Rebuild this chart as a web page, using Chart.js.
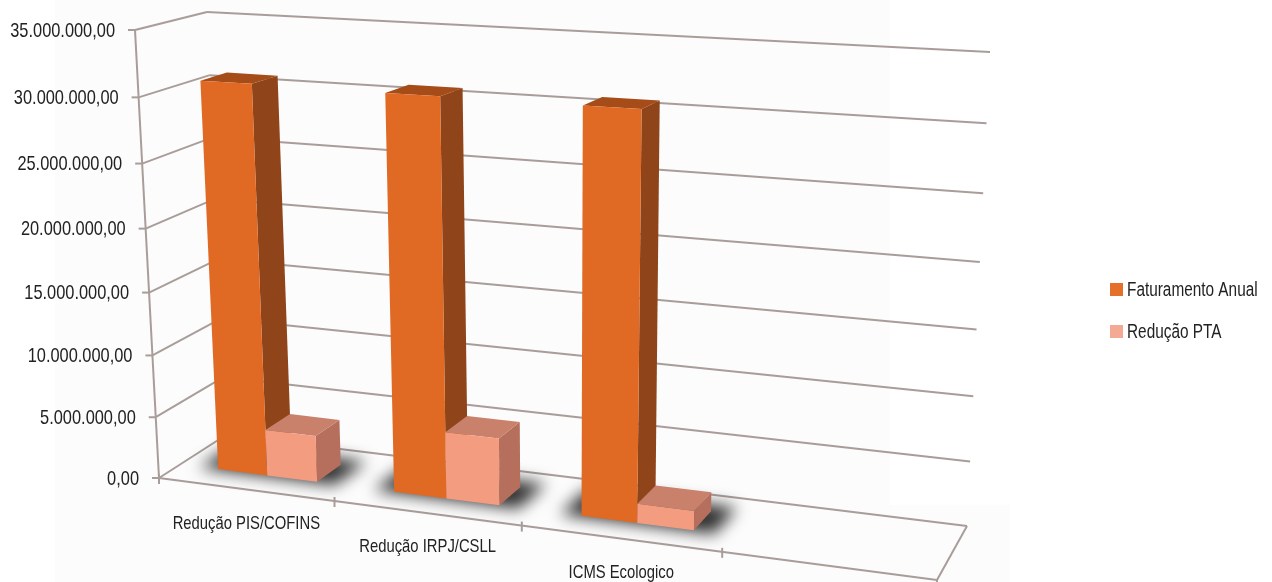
<!DOCTYPE html>
<html>
<head>
<meta charset="utf-8">
<script src="https://cdn.jsdelivr.net/npm/chart.js@4"></script>
<style>
  html, body { margin: 0; padding: 0; background: #fff; }
  #chart-container { width: 1272px; height: 582px; }
</style>
</head>
<body>
<div id="chart-container"><canvas id="chart"></canvas></div>
<script>
const categories = ['Redução PIS/COFINS', 'Redução IRPJ/CSLL', 'ICMS Ecologico', ''];
const faturamentoAnual = [30900000, 30800000, 30750000, null];
const reducaoPTA = [3750000, 5300000, 1500000, null];
const tickLabels = ['0,00', '5.000.000,00', '10.000.000,00', '15.000.000,00', '20.000.000,00', '25.000.000,00', '30.000.000,00', '35.000.000,00'];

const textFont = '"Liberation Sans", sans-serif';
const textSqueeze = 0.78;
const lineColor = '#a99d9a';

// Side and top face colours, by dataset index
const sideColors = ['#8f441a', '#b56f5c'];
const topColors = ['#a54c18', '#c9816b'];

// Corners of the walls on the canvas: bottom-left, bottom-right, top-right, top-left
const frontPlane = [[159, 478], [937, 580], [965, 70], [135, 30]];
const backPlane = [[226, 435], [967, 526], [990, 52], [207, 12]];
const barDepth = [0.32, 0.7];
const groupShift = 0.002;

// Homography from the unit square to a quad
function quadMap(q) {
  const [p0, p1, p2, p3] = q;
  const dx1 = p1[0] - p2[0], dx2 = p3[0] - p2[0], sx = p0[0] - p1[0] + p2[0] - p3[0];
  const dy1 = p1[1] - p2[1], dy2 = p3[1] - p2[1], sy = p0[1] - p1[1] + p2[1] - p3[1];
  const den = dx1 * dy2 - dx2 * dy1;
  const g = (sx * dy2 - dx2 * sy) / den;
  const h = (dx1 * sy - sx * dy1) / den;
  const a = p1[0] - p0[0] + g * p1[0], b = p3[0] - p0[0] + h * p3[0];
  const d = p1[1] - p0[1] + g * p1[1], e = p3[1] - p0[1] + h * p3[1];
  return (u, v) => {
    const w = g * u + h * v + 1;
    return [(a * u + b * v + p0[0]) / w, (d * u + e * v + p0[1]) / w];
  };
}

const frontMap = quadMap(frontPlane);
const backMap = quadMap(backPlane);

function project(u, v, depth) {
  const f = frontMap(u, v);
  const b = backMap(u, v);
  return [f[0] + (b[0] - f[0]) * depth, f[1] + (b[1] - f[1]) * depth];
}

function poly(ctx, pts, color) {
  ctx.beginPath();
  pts.forEach((p, i) => (i ? ctx.lineTo(p[0], p[1]) : ctx.moveTo(p[0], p[1])));
  ctx.closePath();
  ctx.fillStyle = color;
  ctx.fill();
}

function line(ctx, a, b) {
  ctx.beginPath();
  ctx.moveTo(a[0], a[1]);
  ctx.lineTo(b[0], b[1]);
  ctx.stroke();
}

// None of the installed fonts is narrow enough, so squeeze the text sideways
function squeezedText(ctx, text, x, y, squeeze = textSqueeze) {
  ctx.save();
  ctx.translate(x, y);
  ctx.scale(squeeze, 1);
  ctx.fillText(text, 0, 0);
  ctx.restore();
}

const toU = (chart, px) => (px - chart.chartArea.left) / chart.chartArea.width;
const toV = (chart, py) => (chart.chartArea.bottom - py) / chart.chartArea.height;

const perspectivePlugin = {
  id: 'perspective',

  // Walls, floor, tick labels and the floor shadows go under the bars
  beforeDatasetsDraw(chart) {
    const ctx = chart.ctx;
    const yScale = chart.scales.y;
    const xScale = chart.scales.x;
    ctx.save();

    // The picture has a very faint off-white panel behind the plot
    ctx.fillStyle = '#fcfcfc';
    ctx.fillRect(55, 0, 835, 582);
    ctx.fillRect(890, 505, 120, 77);

    ctx.strokeStyle = lineColor;
    ctx.lineWidth = 2;
    ctx.fillStyle = '#222';
    ctx.font = '21px ' + textFont;
    ctx.textBaseline = 'middle';

    yScale.ticks.forEach(tick => {
      const v = toV(chart, yScale.getPixelForValue(tick.value));
      const front = project(0, v, 0);
      const back = project(0, v, 1);
      line(ctx, [front[0] - 7, front[1]], front);
      line(ctx, front, back);
      line(ctx, back, project(1, v, 1));
      ctx.textAlign = 'right';
      squeezedText(ctx, tick.label, front[0] - 20, front[1] + 1);
    });
    line(ctx, project(0, 0, 0), project(0, 1, 0));
    line(ctx, project(0, 0, 0), project(1, 0, 0));
    line(ctx, project(1, 0, 0), project(1, 0, 1));

    // Tick marks and labels of the category axis
    ctx.font = '19px ' + textFont;
    ctx.textAlign = 'center';
    const slot = 1 / categories.length;
    categories.forEach((label, i) => {
      const edge = project(i * slot, 0, 0);
      line(ctx, [edge[0], edge[1] - 4], [edge[0], edge[1] + 6]);
      const mid = project(toU(chart, xScale.getPixelForValue(i)), 0, 0);
      squeezedText(ctx, label, mid[0] + 1, mid[1] + 34);
    });
    const end = project(1, 0, 0);
    line(ctx, end, [end[0], end[1] + 6]);

    // Soft shadow on the floor under each group
    const first = chart.getDatasetMeta(0).data;
    const second = chart.getDatasetMeta(1).data;
    ctx.filter = 'blur(8px)';
    first.forEach((bar, i) => {
      if (faturamentoAnual[i] === null) return;
      const u0 = toU(chart, bar.x - bar.width / 2) + groupShift - 0.026;
      const u1 = toU(chart, second[i].x + second[i].width / 2) + groupShift + 0.026;
      poly(ctx, [
        project(u0, 0, barDepth[0] - 0.02),
        project(u1, 0, barDepth[0] - 0.02),
        project(u1, 0, barDepth[1] + 0.12),
        project(u0, 0, barDepth[1] + 0.12)
      ], '#2e2e2e');
    });
    ctx.restore();
  },

  // The flat bars are replaced by boxes in afterDatasetsDraw
  beforeDatasetDraw() {
    return false;
  },

  // Boxes through the same projection, left series first so the right one sits in front
  afterDatasetsDraw(chart) {
    const ctx = chart.ctx;
    const [d0, d1] = barDepth;
    chart.data.datasets.forEach((dataset, index) => {
      chart.getDatasetMeta(index).data.forEach((bar, i) => {
        if (dataset.data[i] === null) return;
        const u0 = toU(chart, bar.x - bar.width / 2) + groupShift;
        const u1 = toU(chart, bar.x + bar.width / 2) + groupShift;
        const v0 = toV(chart, bar.base);
        const v1 = toV(chart, bar.y);
        poly(ctx, [project(u1, v0, d0), project(u1, v0, d1), project(u1, v1, d1), project(u1, v1, d0)], sideColors[index]);
        poly(ctx, [project(u0, v1, d0), project(u1, v1, d0), project(u1, v1, d1), project(u0, v1, d1)], topColors[index]);
        poly(ctx, [project(u0, v0, d0), project(u1, v0, d0), project(u1, v1, d0), project(u0, v1, d0)], dataset.backgroundColor);
      });
    });

    // Legend, squeezed like the other text
    ctx.save();
    ctx.font = '20px ' + textFont;
    ctx.textAlign = 'left';
    ctx.textBaseline = 'middle';
    chart.data.datasets.forEach((dataset, index) => {
      const y = 289 + index * 42;
      ctx.fillStyle = index === 0 ? '#e4702a' : '#f4a994';
      ctx.fillRect(1110, y - 6, 13, 13);
      ctx.fillStyle = '#222';
      squeezedText(ctx, dataset.label, 1127, y + 1, 0.768);
    });
    ctx.restore();
  }
};

new Chart(document.getElementById('chart'), {
  type: 'bar',
  data: {
    labels: categories,
    datasets: [
      { label: 'Faturamento Anual', data: faturamentoAnual, backgroundColor: '#e06a24' },
      { label: 'Redução PTA', data: reducaoPTA, backgroundColor: '#f49c80' }
    ]
  },
  options: {
    responsive: true,
    maintainAspectRatio: false,
    animation: false,
    datasets: { bar: { categoryPercentage: 0.57, barPercentage: 1 } },
    plugins: {
      tooltip: { enabled: false },
      legend: { display: false }
    },
    scales: {
      x: { display: false },
      y: {
        display: false,
        min: 0,
        max: 35000000,
        ticks: {
          stepSize: 5000000,
          callback: (value, index) => tickLabels[index]
        }
      }
    }
  },
  plugins: [perspectivePlugin]
});
</script>
</body>
</html>
